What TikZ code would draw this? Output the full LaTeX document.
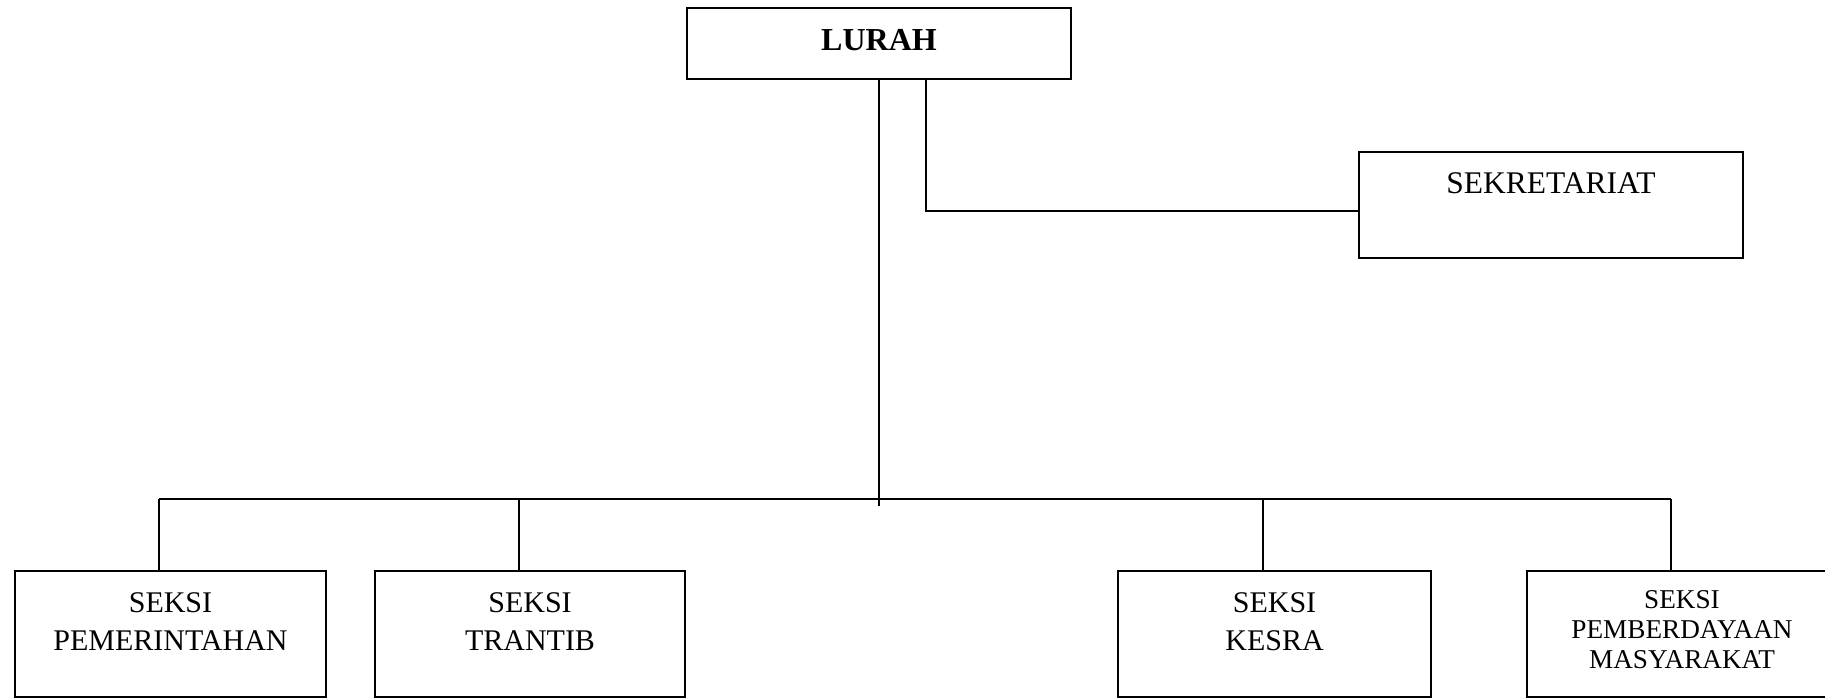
\documentclass[tikz,border=0pt]{standalone}
\usepackage{fontspec}
\setmainfont{Liberation Serif}
\begin{document}
\begin{tikzpicture}[x=.5pt, y=-.5pt, line width=1pt,
        kotak/.style={draw, inner sep=0pt, minimum width=155pt, minimum height=63pt},
        teks/.style={anchor=north, inner sep=0pt, align=center},
        seksi/.style={teks, font=\fontsize{15}{19}\selectfont}]
    \useasboundingbox (0,0) rectangle (1825,699);
    % kotak atas
    \node[kotak, minimum width=192pt, minimum height=35.5pt] (lurah) at (879,43.5) {};
    \node[kotak, minimum width=192pt, minimum height=53pt] (sekre) at (1551,205) {};
    \node[teks, font=\fontsize{16}{19}\selectfont\bfseries] (tlurah) at (879,28) {LURAH};
    \node[teks, font=\fontsize{15.75}{19}\selectfont] (tsekre) at (1551,172) {SEKRETARIAT};
    % kotak seksi
    \node[kotak, minimum width=155.5pt] (pem) at (170.5,634) {};
    \node[kotak] (tran) at (530,634) {};
    \node[kotak, minimum width=156.5pt] (kes) at (1274.5,634) {};
    \node[kotak] (pmd) at (1682,634) {};
    \node[seksi] (tpem) at (170.5,592) {SEKSI\\PEMERINTAHAN};
    \node[seksi] (ttran) at (530,592) {SEKSI\\TRANTIB};
    \node[seksi] (tkes) at (1274.5,592) {SEKSI\\KESRA};
    \node[teks, font=\fontsize{13.6}{15}\selectfont] (tpmd) at (1682,589) {SEKSI\\PEMBERDAYAAN\\MASYARAKAT};
    % garis
    \coordinate (ujung) at (879,506);
    \coordinate (sk) at (926,211);
    \coordinate (d1) at (159,499);
    \coordinate (d2) at (519,499);
    \coordinate (d3) at (1263,499);
    \coordinate (d4) at (1671,499);
    \draw (lurah.south) -- (ujung);
    \draw (sk |- lurah.south) |- (sk -| sekre.west);
    \draw (d1) -- (d4);
    \draw (d1) -- (d1 |- pem.north);
    \draw (d2) -- (d2 |- tran.north);
    \draw (d3) -- (d3 |- kes.north);
    \draw (d4) -- (d4 |- pmd.north);
\end{tikzpicture}
\end{document}
